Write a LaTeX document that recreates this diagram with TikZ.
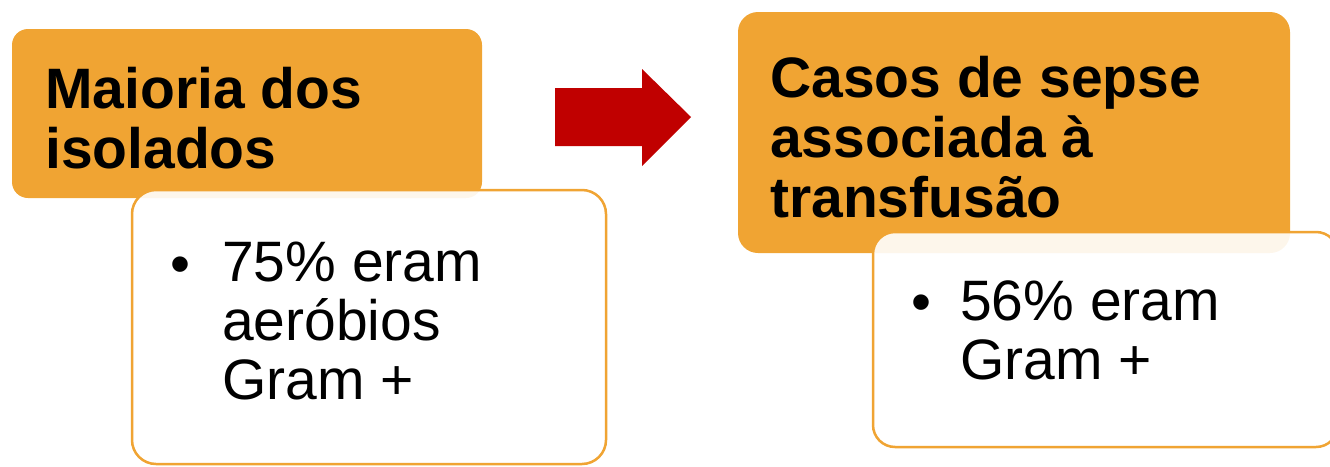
\documentclass[tikz,border=0pt]{standalone}
\usepackage{fontspec}
\setmainfont{Liberation Sans}
\definecolor{hdrorange}{RGB}{240,164,51}
\definecolor{arrowred}{RGB}{192,0,0}
\tikzset{
  hdrbox/.style={fill=hdrorange, rounded corners=16pt, inner sep=0pt},
  bodybox/.style={draw=hdrorange, line width=2.5pt, fill=white, fill opacity=0.9, draw opacity=1, rounded corners=24pt, inner sep=0pt},
  hdrtext/.style={anchor=north west, inner sep=0pt, align=left, font=\fontsize{57}{60}\selectfont\bfseries},
  bodytext/.style={anchor=north west, inner sep=0pt, align=left, font=\fontsize{57}{59}\selectfont},
  bullettext/.style={anchor=base west, inner sep=0pt, font=\fontsize{57}{57}\selectfont}
}
\begin{document}
\begin{tikzpicture}[x=1pt,y=-1pt]
\useasboundingbox (0,0) rectangle (1330,466);
% left group
\node[hdrbox, minimum width=470pt, minimum height=169pt] (h1) at (247,113.5) {};
\node[bodybox, minimum width=474pt, minimum height=274pt] (b1) at (369,327) {};
\node[hdrtext] (t1) at (45,67.2) {Maioria dos\\isolados};
\node[bullettext] (d1) at (170,283) {•};
\node[bodytext] (s1) at (222,242) {75\% eram\\aeróbios\\Gram +};
% arrow
\path[fill=arrowred] (555,88) -- (642,88) -- (642,69) -- (691,117) -- (642,166) -- (642,146) -- (555,146) -- cycle;
% right group
\node[hdrbox, rounded corners=20pt, minimum width=552pt, minimum height=241pt] (h2) at (1014,132.5) {};
\node[bodybox, rounded corners=22pt, minimum width=465pt, minimum height=215pt] (b2) at (1105.5,339.5) {};
\node[hdrtext] (t2) at (770,56.2) {Casos de sepse\\associada à\\transfusão};
\node[bullettext] (d2) at (911,321) {•};
\node[bodytext] (s2) at (960,280.2) {56\% eram\\Gram +};
\end{tikzpicture}
\end{document}
